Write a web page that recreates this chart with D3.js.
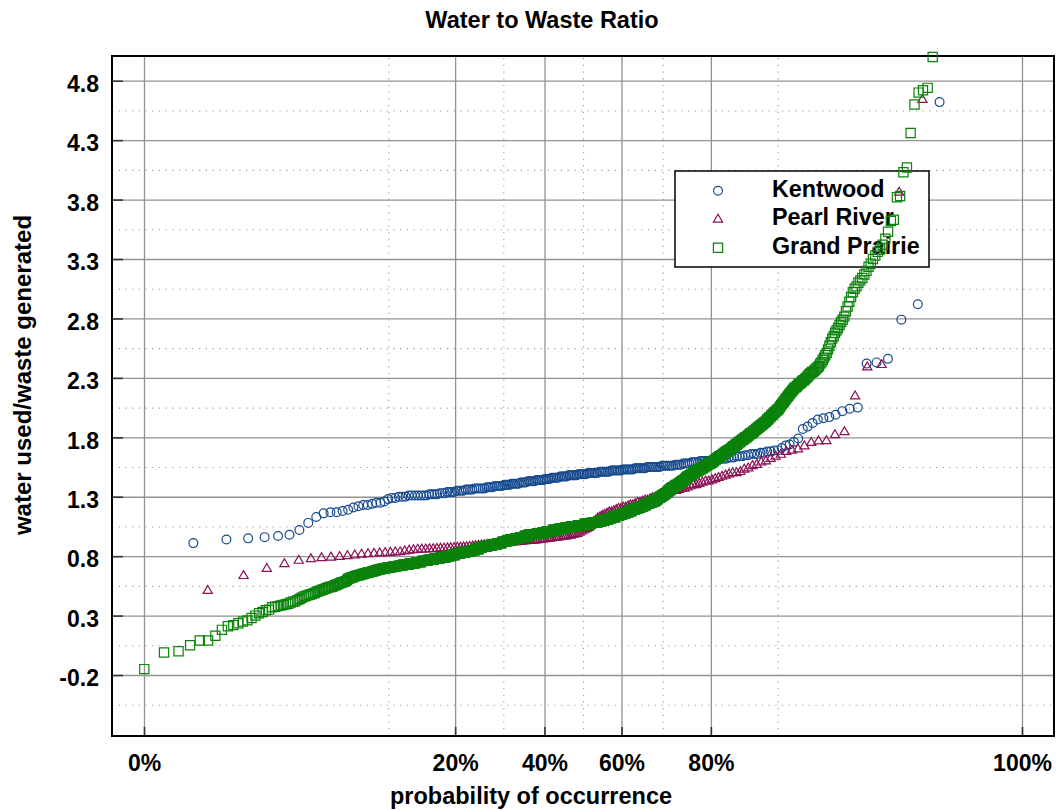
<!DOCTYPE html>
<html><head><meta charset="utf-8">
<script src="https://cdn.jsdelivr.net/npm/d3@7"></script>
<style>
body{margin:0;background:#fff}
svg{display:block}
text{font-family:"Liberation Sans",Arial,Helvetica,sans-serif;font-weight:bold;fill:#000}
</style>
</head><body>
<svg id="chart" width="1057" height="810"></svg>
<script>
const chartTitle = "Water to Waste Ratio";
const xTitle = "probability of occurrence";
const yTitle = "water used/waste generated";
const seriesNames = ["Kentwood", "Pearl River", "Grand Prairie"];
const xTickProbs = [0, 0.2, 0.4, 0.6, 0.8, 1];
const xTickLabels = ["0%", "20%", "40%", "60%", "80%", "100%"];
const xMinorProbs = [0.1, 0.3, 0.5, 0.7, 0.9];
const yTickValues = [-0.2, 0.3, 0.8, 1.3, 1.8, 2.3, 2.8, 3.3, 3.8, 4.3, 4.8];
const yTickLabels = ["-0.2", "0.3", "0.8", "1.3", "1.8", "2.3", "2.8", "3.3", "3.8", "4.3", "4.8"];
const yMinorValues = [-0.45, 0.05, 0.55, 1.05, 1.55, 2.05, 2.55, 3.05, 3.55, 4.05, 4.55];

// sorted observations visible in the plot (ascending)
const kentwood = [
0.91,0.94,0.95,0.96,0.97,0.98,1.02,1.08,1.13,1.16,
1.17,1.17,1.18,1.19,1.21,1.22,1.23,1.23,1.24,1.25,
1.25,1.26,1.28,1.29,1.29,1.30,1.30,1.30,1.31,1.31,
1.31,1.31,1.31,1.31,1.31,1.32,1.32,1.32,1.32,1.33,
1.33,1.33,1.34,1.34,1.34,1.34,1.35,1.35,1.35,1.35,
1.36,1.36,1.36,1.36,1.37,1.37,1.37,1.37,1.37,1.37,
1.38,1.38,1.38,1.38,1.39,1.39,1.39,1.39,1.39,1.40,
1.40,1.40,1.40,1.41,1.41,1.41,1.41,1.41,1.42,1.42,
1.42,1.42,1.43,1.43,1.43,1.43,1.43,1.44,1.44,1.44,
1.44,1.44,1.45,1.45,1.45,1.45,1.46,1.46,1.46,1.46,
1.46,1.47,1.47,1.47,1.47,1.47,1.48,1.48,1.48,1.48,
1.48,1.48,1.49,1.49,1.49,1.49,1.49,1.49,1.50,1.50,
1.50,1.50,1.50,1.50,1.50,1.51,1.51,1.51,1.51,1.51,
1.51,1.51,1.52,1.52,1.52,1.52,1.52,1.52,1.52,1.53,
1.53,1.53,1.53,1.53,1.53,1.53,1.54,1.54,1.54,1.54,
1.54,1.54,1.54,1.55,1.55,1.55,1.55,1.55,1.55,1.55,
1.55,1.56,1.56,1.56,1.56,1.56,1.56,1.56,1.57,1.57,
1.57,1.57,1.58,1.58,1.58,1.58,1.59,1.59,1.59,1.59,
1.60,1.60,1.60,1.60,1.60,1.61,1.61,1.61,1.61,1.62,
1.62,1.62,1.63,1.63,1.63,1.64,1.64,1.64,1.65,1.65,
1.66,1.66,1.66,1.67,1.67,1.68,1.68,1.69,1.69,1.71,
1.73,1.74,1.76,1.79,1.87,1.89,1.92,1.95,1.96,1.97,
1.99,2.02,2.04,2.05,2.42,2.43,2.46,2.79,2.92,4.62
];
const pearlRiver = [
0.52,0.645,0.705,0.745,0.773,0.787,0.795,0.80,0.805,0.812,
0.818,0.824,0.829,0.832,0.835,0.838,0.84,0.843,0.845,0.852,
0.858,0.862,0.866,0.867,0.868,0.87,0.871,0.873,0.875,0.876,
0.878,0.879,0.88,0.882,0.884,0.886,0.888,0.89,0.893,0.896,
0.899,0.902,0.905,0.907,0.909,0.911,0.913,0.914,0.915,0.918,
0.92,0.922,0.925,0.928,0.93,0.932,0.934,0.936,0.938,0.94,
0.941,0.942,0.945,0.947,0.95,0.952,0.955,0.958,0.96,0.963,
0.966,0.968,0.97,0.973,0.976,0.979,0.982,0.985,0.99,0.995,
1.00,1.01,1.02,1.03,1.04,1.05,1.07,1.09,1.11,1.13,
1.14,1.15,1.16,1.17,1.18,1.18,1.19,1.20,1.21,1.21,
1.22,1.22,1.23,1.24,1.24,1.25,1.26,1.26,1.27,1.28,
1.28,1.29,1.30,1.30,1.31,1.32,1.33,1.33,1.34,1.35,
1.36,1.36,1.37,1.38,1.38,1.39,1.40,1.41,1.41,1.42,
1.43,1.44,1.44,1.45,1.46,1.47,1.48,1.49,1.50,1.51,
1.51,1.52,1.54,1.55,1.57,1.58,1.60,1.61,1.63,1.65,
1.665,1.69,1.70,1.71,1.735,1.765,1.777,1.78,1.83,1.855,
2.156,2.40,2.42,3.87,4.65
];
const grandPrairie = [
-0.15,-0.01,0.00,0.05,0.09,0.09,0.13,0.18,0.21,
0.22,0.235,0.25,0.26,0.28,0.30,0.32,0.33,0.345,0.35,
0.37,0.375,0.38,0.385,0.39,0.395,0.40,0.41,0.417,0.42,
0.43,0.44,0.45,0.46,0.465,0.47,0.475,0.48,0.487,0.49,
0.50,0.505,0.51,0.515,0.52,0.525,0.53,0.535,0.54,0.54,
0.543,0.55,0.555,0.56,0.565,0.57,0.575,0.58,0.582,0.585,
0.59,0.60,0.61,0.614,0.618,0.62,0.625,0.628,0.632,0.635,
0.638,0.64,0.641,0.645,0.648,0.65,0.652,0.655,0.657,0.66,
0.662,0.664,0.666,0.668,0.67,0.672,0.675,0.678,0.68,0.683,
0.685,0.687,0.689,0.69,0.692,0.694,0.695,0.697,0.698,0.70,
0.701,0.702,0.704,0.705,0.706,0.707,0.708,0.709,0.71,0.711,
0.712,0.714,0.715,0.716,0.717,0.718,0.72,0.72,0.72,0.72,
0.72,0.73,0.73,0.73,0.73,0.73,0.73,0.73,0.73,0.73,
0.74,0.74,0.74,0.74,0.74,0.74,0.74,0.74,0.74,0.75,
0.75,0.75,0.75,0.75,0.75,0.75,0.75,0.75,0.76,0.76,
0.76,0.76,0.76,0.76,0.76,0.76,0.76,0.76,0.77,0.77,
0.77,0.77,0.77,0.77,0.77,0.77,0.77,0.77,0.78,0.78,
0.78,0.78,0.78,0.78,0.78,0.78,0.78,0.78,0.79,0.79,
0.79,0.79,0.79,0.79,0.79,0.79,0.79,0.79,0.79,0.80,
0.80,0.80,0.80,0.80,0.80,0.80,0.80,0.80,0.81,0.81,
0.81,0.81,0.81,0.81,0.81,0.81,0.82,0.82,0.82,0.82,
0.82,0.82,0.82,0.82,0.82,0.82,0.83,0.83,0.83,0.83,
0.83,0.83,0.83,0.83,0.83,0.83,0.84,0.84,0.84,0.84,
0.84,0.84,0.84,0.84,0.84,0.84,0.85,0.85,0.85,0.85,
0.85,0.85,0.85,0.85,0.85,0.86,0.86,0.86,0.86,0.86,
0.86,0.86,0.86,0.86,0.87,0.87,0.87,0.87,0.87,0.87,
0.88,0.88,0.88,0.88,0.88,0.88,0.88,0.88,0.88,0.88,
0.88,0.88,0.89,0.89,0.89,0.89,0.89,0.89,0.89,0.89,
0.89,0.89,0.89,0.90,0.90,0.90,0.90,0.90,0.90,0.90,
0.90,0.90,0.90,0.90,0.91,0.91,0.91,0.91,0.91,0.91,
0.91,0.91,0.91,0.91,0.91,0.92,0.92,0.92,0.92,0.92,
0.92,0.92,0.92,0.92,0.92,0.92,0.93,0.93,0.93,0.93,
0.93,0.93,0.93,0.93,0.94,0.94,0.94,0.94,0.94,0.94,
0.94,0.94,0.94,0.94,0.94,0.94,0.95,0.95,0.95,0.95,
0.95,0.95,0.95,0.95,0.95,0.95,0.95,0.95,0.96,0.96,
0.96,0.96,0.96,0.96,0.96,0.96,0.96,0.96,0.96,0.96,
0.97,0.97,0.97,0.97,0.97,0.97,0.97,0.97,0.97,0.97,
0.98,0.98,0.98,0.98,0.98,0.98,0.98,0.98,0.98,0.98,
0.98,0.98,0.98,0.98,0.98,0.98,0.98,0.98,0.98,0.98,
0.99,0.99,0.99,0.99,0.99,0.99,0.99,0.99,0.99,0.99,
0.99,0.99,0.99,0.99,0.99,1.00,1.00,1.00,1.00,1.00,
1.00,1.00,1.00,1.00,1.00,1.00,1.00,1.01,1.01,1.01,
1.01,1.01,1.01,1.01,1.01,1.01,1.01,1.01,1.01,1.01,
1.01,1.01,1.01,1.02,1.02,1.02,1.02,1.02,1.02,1.02,
1.02,1.02,1.02,1.02,1.02,1.02,1.02,1.02,1.02,1.03,
1.03,1.03,1.03,1.03,1.03,1.03,1.03,1.03,1.03,1.03,
1.03,1.03,1.03,1.03,1.03,1.04,1.04,1.04,1.04,1.04,
1.04,1.04,1.04,1.04,1.04,1.04,1.04,1.04,1.04,1.04,
1.04,1.05,1.05,1.05,1.05,1.05,1.05,1.05,1.05,1.05,
1.05,1.05,1.05,1.05,1.05,1.05,1.05,1.05,1.05,1.05,
1.06,1.06,1.06,1.06,1.06,1.06,1.06,1.06,1.06,1.06,
1.06,1.06,1.06,1.06,1.06,1.06,1.06,1.06,1.07,1.07,
1.07,1.07,1.07,1.07,1.07,1.07,1.07,1.07,1.07,1.07,
1.07,1.07,1.07,1.07,1.07,1.07,1.08,1.08,1.08,1.08,
1.08,1.08,1.08,1.08,1.08,1.08,1.08,1.08,1.08,1.08,
1.08,1.08,1.08,1.08,1.09,1.09,1.09,1.09,1.09,1.09,
1.09,1.09,1.09,1.09,1.10,1.10,1.10,1.10,1.10,1.10,
1.10,1.10,1.10,1.11,1.11,1.11,1.11,1.11,1.11,1.11,
1.11,1.11,1.11,1.12,1.12,1.12,1.12,1.12,1.12,1.12,
1.12,1.12,1.13,1.13,1.13,1.13,1.13,1.13,1.13,1.13,
1.13,1.13,1.14,1.14,1.14,1.14,1.14,1.14,1.14,1.14,
1.14,1.14,1.15,1.15,1.15,1.15,1.15,1.15,1.15,1.15,
1.16,1.16,1.16,1.16,1.16,1.16,1.16,1.16,1.17,1.17,
1.17,1.17,1.17,1.17,1.17,1.17,1.18,1.18,1.18,1.18,
1.18,1.18,1.18,1.18,1.19,1.19,1.19,1.19,1.19,1.19,
1.19,1.19,1.20,1.20,1.20,1.20,1.20,1.20,1.20,1.20,
1.21,1.21,1.21,1.21,1.21,1.21,1.21,1.22,1.22,1.22,
1.22,1.22,1.22,1.22,1.23,1.23,1.23,1.23,1.23,1.23,
1.23,1.24,1.24,1.24,1.24,1.24,1.24,1.24,1.25,1.25,
1.25,1.25,1.25,1.25,1.25,1.26,1.26,1.26,1.26,1.26,
1.26,1.26,1.27,1.27,1.27,1.27,1.28,1.28,1.28,1.28,
1.29,1.29,1.29,1.29,1.30,1.30,1.30,1.30,1.31,1.31,
1.31,1.31,1.32,1.32,1.32,1.32,1.33,1.33,1.33,1.33,
1.34,1.34,1.34,1.35,1.35,1.35,1.36,1.36,1.36,1.37,
1.37,1.37,1.38,1.38,1.38,1.38,1.38,1.39,1.39,1.39,
1.39,1.40,1.40,1.40,1.40,1.40,1.41,1.41,1.41,1.41,
1.42,1.42,1.42,1.43,1.43,1.43,1.44,1.44,1.44,1.44,
1.45,1.45,1.45,1.46,1.46,1.46,1.47,1.47,1.47,1.47,
1.48,1.48,1.48,1.48,1.49,1.49,1.49,1.49,1.50,1.50,
1.50,1.50,1.51,1.51,1.51,1.51,1.52,1.52,1.52,1.52,
1.53,1.53,1.53,1.53,1.54,1.54,1.54,1.54,1.55,1.55,
1.55,1.55,1.56,1.56,1.56,1.57,1.57,1.57,1.57,1.58,
1.58,1.58,1.58,1.59,1.59,1.59,1.59,1.60,1.60,1.60,
1.61,1.61,1.61,1.62,1.62,1.62,1.63,1.63,1.63,1.64,
1.64,1.64,1.65,1.65,1.65,1.66,1.66,1.66,1.67,1.67,
1.67,1.68,1.68,1.68,1.69,1.69,1.69,1.70,1.70,1.70,
1.71,1.71,1.72,1.72,1.72,1.73,1.73,1.74,1.74,1.74,
1.75,1.75,1.76,1.76,1.76,1.77,1.77,1.78,1.78,1.78,
1.79,1.79,1.80,1.80,1.80,1.81,1.81,1.82,1.82,1.83,
1.83,1.83,1.84,1.84,1.85,1.85,1.86,1.86,1.87,1.87,
1.88,1.88,1.89,1.89,1.90,1.90,1.91,1.91,1.92,1.92,
1.93,1.93,1.94,1.95,1.95,1.96,1.97,1.97,1.98,1.99,
1.99,2.00,2.01,2.01,2.02,2.03,2.03,2.04,2.05,2.06,
2.07,2.08,2.09,2.10,2.11,2.12,2.13,2.14,2.15,2.16,
2.17,2.18,2.19,2.20,2.21,2.22,2.22,2.23,2.24,2.25,
2.25,2.26,2.27,2.28,2.28,2.29,2.30,2.31,2.32,2.33,
2.34,2.35,2.35,2.36,2.37,2.38,2.39,2.40,2.42,2.43,
2.45,2.47,2.49,2.51,2.54,2.57,2.60,2.63,2.65,2.68,
2.70,2.72,2.745,2.77,2.79,2.815,2.86,2.90,2.94,2.98,
3.02,3.05,3.07,3.10,3.12,3.14,3.17,3.20,3.235,3.26,
3.30,3.33,3.36,3.38,3.42,3.47,3.53,3.62,3.63,3.82,
3.83,4.03,4.07,4.36,4.60,4.70,4.72,4.74,5.00
];
// sample sizes, rank of first visible observation, plotting-position constant
const sampleSizes = [231, 166, 1029];
const firstRanks = [1, 1, 2];
const plotAlphas = [-0.2, -0.13, 0];
const seriesColors = ["#164a8e", "#8a1154", "#0b820b"];

// ---------- helpers ----------
function normInv(p) {
  const a=[-3.969683028665376e+01,2.209460984245205e+02,-2.759285104469687e+02,1.383577518672690e+02,-3.066479806614716e+01,2.506628277459239e+00];
  const b=[-5.447609879822406e+01,1.615858368580409e+02,-1.556989798598866e+02,6.680131188771972e+01,-1.328068155288572e+01];
  const c=[-7.784894002430293e-03,-3.223964580411365e-01,-2.400758277161838e+00,-2.549732539343734e+00,4.374664141464968e+00,2.938163982698783e+00];
  const d=[7.784695709041462e-03,3.224671290700398e-01,2.445134137142996e+00,3.754408661907416e+00];
  const pl=0.02425, ph=1-pl; let q, r;
  if (p < pl) { q=Math.sqrt(-2*Math.log(p)); return (((((c[0]*q+c[1])*q+c[2])*q+c[3])*q+c[4])*q+c[5])/((((d[0]*q+d[1])*q+d[2])*q+d[3])*q+1); }
  if (p <= ph) { q=p-0.5; r=q*q; return (((((a[0]*r+a[1])*r+a[2])*r+a[3])*r+a[4])*r+a[5])*q/(((((b[0]*r+b[1])*r+b[2])*r+b[3])*r+b[4])*r+1); }
  q=Math.sqrt(-2*Math.log(1-p)); return -(((((c[0]*q+c[1])*q+c[2])*q+c[3])*q+c[4])*q+c[5])/((((d[0]*q+d[1])*q+d[2])*q+d[3])*q+1);
}
const pEdge = 0.00193;
const probToZ = p => normInv(Math.min(1 - pEdge, Math.max(pEdge, p)));

const plot = {left: 112, top: 56, right: 1054, bottom: 736};
const svg = d3.select("#chart");
const x = d3.scaleLinear().domain([-3.1, 3.1]).range([plot.left, plot.right]);
const y = d3.scaleLinear().domain([-0.713, 5.008]).range([plot.bottom, plot.top]);

// ---------- grid ----------
const grid = svg.append("g");
grid.append("g").attr("transform", `translate(0,${plot.bottom})`)
  .call(d3.axisBottom(x).tickValues(xMinorProbs.map(probToZ)).tickSize(-(plot.bottom - plot.top)).tickFormat(""))
  .call(g => g.select(".domain").remove())
  .selectAll("line").attr("stroke", "#9a9a9a").attr("stroke-width", 1.1).attr("stroke-dasharray", "1.2,5.5");
grid.append("g").attr("transform", `translate(${plot.left},0)`)
  .call(d3.axisLeft(y).tickValues(yMinorValues).tickSize(-(plot.right - plot.left)).tickFormat(""))
  .call(g => g.select(".domain").remove())
  .selectAll("line").attr("stroke", "#9a9a9a").attr("stroke-width", 1.1).attr("stroke-dasharray", "1.2,5.5");
grid.append("g").attr("transform", `translate(0,${plot.bottom})`)
  .call(d3.axisBottom(x).tickValues(xTickProbs.map(probToZ)).tickSize(-(plot.bottom - plot.top)).tickFormat(""))
  .call(g => g.select(".domain").remove())
  .selectAll("line").attr("stroke", "#929292").attr("stroke-width", 1.3);
grid.append("g").attr("transform", `translate(${plot.left},0)`)
  .call(d3.axisLeft(y).tickValues(yTickValues).tickSize(-(plot.right - plot.left)).tickFormat(""))
  .call(g => g.select(".domain").remove())
  .selectAll("line").attr("stroke", "#929292").attr("stroke-width", 1.3);

// ---------- axes ----------
const yAxisG = svg.append("g").attr("transform", `translate(${plot.left},0)`)
  .call(d3.axisLeft(y).tickValues(yTickValues).tickFormat((d, i) => yTickLabels[i]).tickSize(-11).tickPadding(13))
  .call(g => g.select(".domain").remove());
yAxisG.selectAll("line").attr("stroke", "#333").attr("stroke-width", 1.6);
yAxisG.selectAll("text").attr("font-size", 23).attr("dy", "0.47em").attr("fill", "#000")
  .attr("font-family", null);

const xAxisG = svg.append("g").attr("transform", `translate(0,${plot.bottom})`)
  .call(d3.axisBottom(x).tickValues(xTickProbs.map(probToZ)).tickFormat((d, i) => xTickLabels[i]).tickSize(-9).tickPadding(19))
  .call(g => g.select(".domain").remove());
xAxisG.selectAll("line").attr("stroke", "#333").attr("stroke-width", 1.6);
xAxisG.selectAll("text").attr("font-size", 23).attr("fill", "#000").attr("font-family", null);

// frame
svg.append("rect").attr("x", plot.left).attr("y", plot.top)
  .attr("width", plot.right - plot.left).attr("height", plot.bottom - plot.top)
  .attr("fill", "none").attr("stroke", "#000").attr("stroke-width", 2);

// titles
svg.append("text").attr("x", 542).attr("y", 28).attr("text-anchor", "middle")
  .attr("font-size", 23.5).text(chartTitle);
svg.append("text").attr("x", 531).attr("y", 804).attr("text-anchor", "middle")
  .attr("font-size", 23.5).text(xTitle);
svg.append("text").attr("transform", "translate(31,375) rotate(-90)").attr("text-anchor", "middle")
  .attr("font-size", 24).text(yTitle);

// ---------- markers ----------
const circlePath = d3.path(); circlePath.arc(0, 0, 4.4, 0, 2 * Math.PI);
const markerPath = [
  circlePath.toString(),
  "M0,-4L4.6,3.9L-4.6,3.9Z",
  "M-4.6,-4.6H4.6V4.6H-4.6Z"
];

// ---------- legend ----------
const legend = svg.append("g");
legend.append("rect").attr("x", 675).attr("y", 171).attr("width", 254).attr("height", 96)
  .attr("fill", "#fff").attr("stroke", "#000").attr("stroke-width", 1.5);
const legendRows = [190.7, 218.3, 247.7];
seriesNames.forEach((name, i) => {
  legend.append("path").attr("d", markerPath[i])
    .attr("transform", `translate(718,${legendRows[i]})`)
    .attr("fill", "none").attr("stroke", seriesColors[i]).attr("stroke-width", 1.2);
  legend.append("text").attr("x", 772).attr("y", legendRows[i] + 6.5)
    .attr("font-size", 23.3).text(name);
});

// ---------- data ----------
const allSeries = [kentwood, pearlRiver, grandPrairie];
allSeries.forEach((vals, s) => {
  const n = sampleSizes[s], a = plotAlphas[s], r0 = firstRanks[s];
  const pts = vals.map((v, j) => ({p: (r0 + j - a) / (n + 1 - 2 * a), v}));
  svg.append("g").selectAll("path").data(pts).join("path")
    .attr("d", markerPath[s])
    .attr("transform", d => `translate(${x(normInv(d.p)).toFixed(2)},${y(d.v).toFixed(2)})`)
    .attr("fill", "none").attr("stroke", seriesColors[s]).attr("stroke-width", 1.2);
});
</script>
</body></html>
